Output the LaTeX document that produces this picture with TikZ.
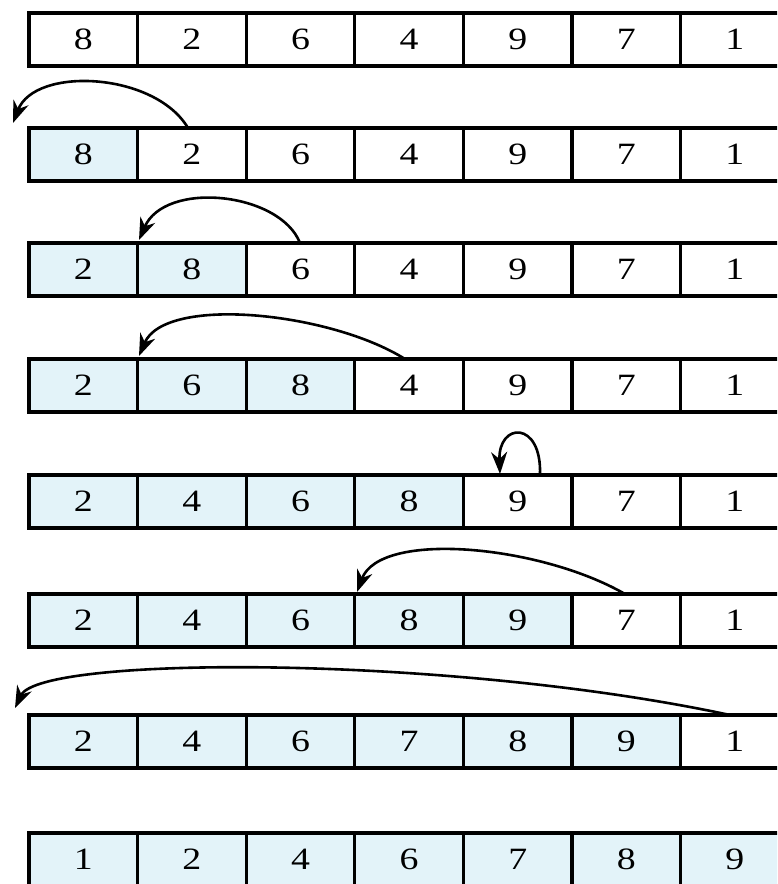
\documentclass[tikz,border=0pt]{standalone}
\usepackage{fontspec}
\setmainfont[FakeStretch=1.22]{Liberation Serif}
\usetikzlibrary{arrows.meta}
\definecolor{cellblue}{RGB}{227,243,249}
\begin{document}
\begin{tikzpicture}[x=1pt,y=-1pt,
  cell/.style={draw=black, line width=3.2pt, minimum width=108.6pt, minimum height=53pt,
    inner sep=0pt, outer sep=0pt, font=\fontsize{31}{33}\selectfont, anchor=north west},
  move/.style={line width=2.6pt, -{Stealth[length=22pt,width=16pt,inset=7pt]}}]
\useasboundingbox (0,0) rectangle (777,884);
\clip (0,0) rectangle (777,884);
\foreach \top/\vals [count=\r] in {
    13/{8,2,6,4,9,7,1},
    128/{8,2,6,4,9,7,1},
    243/{2,8,6,4,9,7,1},
    359/{2,6,8,4,9,7,1},
    475/{2,4,6,8,9,7,1},
    594/{2,4,6,8,9,7,1},
    715/{2,4,6,7,8,9,1},
    833/{1,2,4,6,7,8,9}}{
  \foreach \v [count=\c] in \vals {
    \ifnum\c<\r \def\fc{cellblue}\else\def\fc{white}\fi
    \node[cell, fill=\fc] (r\r c\c) at ({29+108.6*(\c-1)}, \top) {\v};
  }
}
% arrow end points
\coordinate (s2) at (188,128);  \coordinate (t2) at (13,123);
\coordinate (s3) at (300,243);  \coordinate (t3) at (139,240);
\coordinate (s4) at (405,359);  \coordinate (t4) at (139,356);
\coordinate (s5) at (540,475);  \coordinate (t5) at (500,474);
\coordinate (s6) at (625,594);  \coordinate (t6) at (357,592);
\coordinate (s7) at (730,715);  \coordinate (t7) at (15,708);
\draw[move] (s2) .. controls (155,72) and (35,66) .. (t2);
\draw[move] (s3) .. controls (280,192) and (165,180) .. (t3);
\draw[move] (s4) .. controls (330,312) and (165,295) .. (t4);
\draw[move] (s5) .. controls (542,420) and (498,422) .. (t5);
\draw[move] (s6) .. controls (540,545) and (380,530) .. (t6);
\draw[move] (s7) .. controls (450,655) and (40,655) .. (t7);
\end{tikzpicture}
\end{document}
